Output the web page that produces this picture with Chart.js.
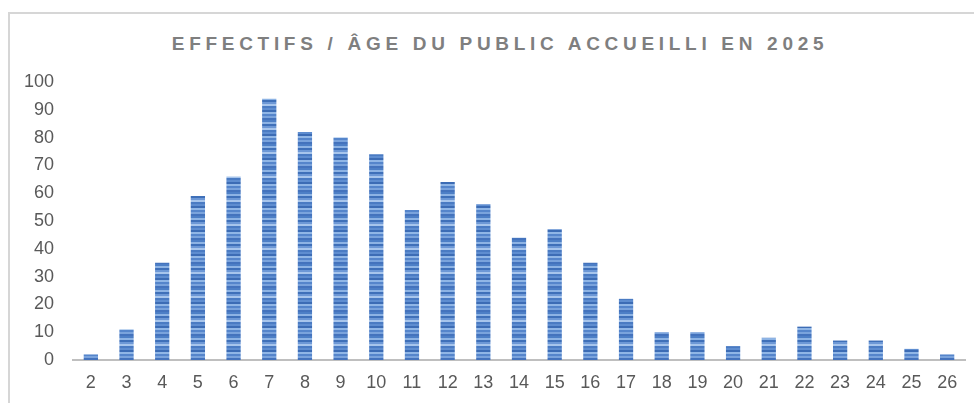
<!DOCTYPE html>
<html>
<head>
<meta charset="utf-8">
<script src="https://cdn.jsdelivr.net/npm/chart.js@4"></script>
<style>
  html, body { margin:0; padding:0; background:#fff; width:974px; height:403px; overflow:hidden; }
  #frame { position:absolute; left:8px; top:12px; width:1000px; height:420px; border-top:2px solid #d6d6d6; border-left:2px solid #d6d6d6; box-sizing:border-box; }
  #title { position:absolute; left:0; top:32px; width:1000px; text-align:center; font-family:"Liberation Sans", Arial, sans-serif; font-weight:bold; font-size:19px; letter-spacing:4.7px; color:#7f7f7f; line-height:24px; }
  #wrap { position:absolute; left:0; top:0; width:974px; height:403px; }
</style>
</head>
<body>
<div id="frame"></div>
<div id="title">EFFECTIFS / ÂGE DU PUBLIC ACCUEILLI EN 2025</div>
<div id="wrap"><canvas id="c" width="974" height="403"></canvas></div>
<script>
const ages = ['2','3','4','5','6','7','8','9','10','11','12','13','14','15','16','17','18','19','20','21','22','23','24','25','26'];
const effectifs = [2, 11, 35, 59, 66, 94, 82, 80, 74, 54, 64, 56, 44, 47, 35, 22, 10, 10, 5, 8, 12, 7, 7, 4, 2];
const yTicks = [0, 10, 20, 30, 40, 50, 60, 70, 80, 90, 100];

function stripePattern() {
  const stripes = ['#4d7fc6','#8db3e4','#3f70b9','#6d98d6','#a7c5ec','#4a7bc3','#5e8dd0','#3c6cb5','#90b6e6','#5585cb','#7aa3dc','#4473bd'];
  const pc = document.createElement('canvas');
  pc.width = 4; pc.height = stripes.length * 2;
  const g = pc.getContext('2d');
  stripes.forEach((col, i) => { g.fillStyle = col; g.fillRect(0, i * 2, 4, 2); });
  return g.createPattern(pc, 'repeat');
}

const ctx = document.getElementById('c').getContext('2d');
new Chart(ctx, {
  type: 'bar',
  data: {
    labels: ages,
    datasets: [{
      data: effectifs,
      backgroundColor: stripePattern(),
      borderWidth: 0,
      categoryPercentage: 1,
      barPercentage: 0.4
    }]
  },
  options: {
    responsive: false,
    animation: false,
    layout: { padding: { left: 0, right: 9, top: 82, bottom: 0 } },
    plugins: { legend: { display: false }, tooltip: { enabled: false }, title: { display: false } },
    scales: {
      x: {
        grid: { display: false, drawTicks: false },
        border: { display: true, color: '#bfbfbf', width: 2 },
        ticks: { color: '#595959', font: { family: '"Liberation Sans", Arial, sans-serif', size: 18 }, padding: 12, maxRotation: 0, autoSkip: false },
        afterFit(s) { s.height = 43; }
      },
      y: {
        min: 0, max: 100,
        afterBuildTicks(s) { s.ticks = yTicks.map(v => ({ value: v })); },
        grid: { display: false, drawTicks: false },
        border: { display: false },
        ticks: { color: '#595959', font: { family: '"Liberation Sans", Arial, sans-serif', size: 18 }, padding: 19 },
        afterFit(s) { s.width = 73; }
      }
    }
  }
});
</script>
</body>
</html>
